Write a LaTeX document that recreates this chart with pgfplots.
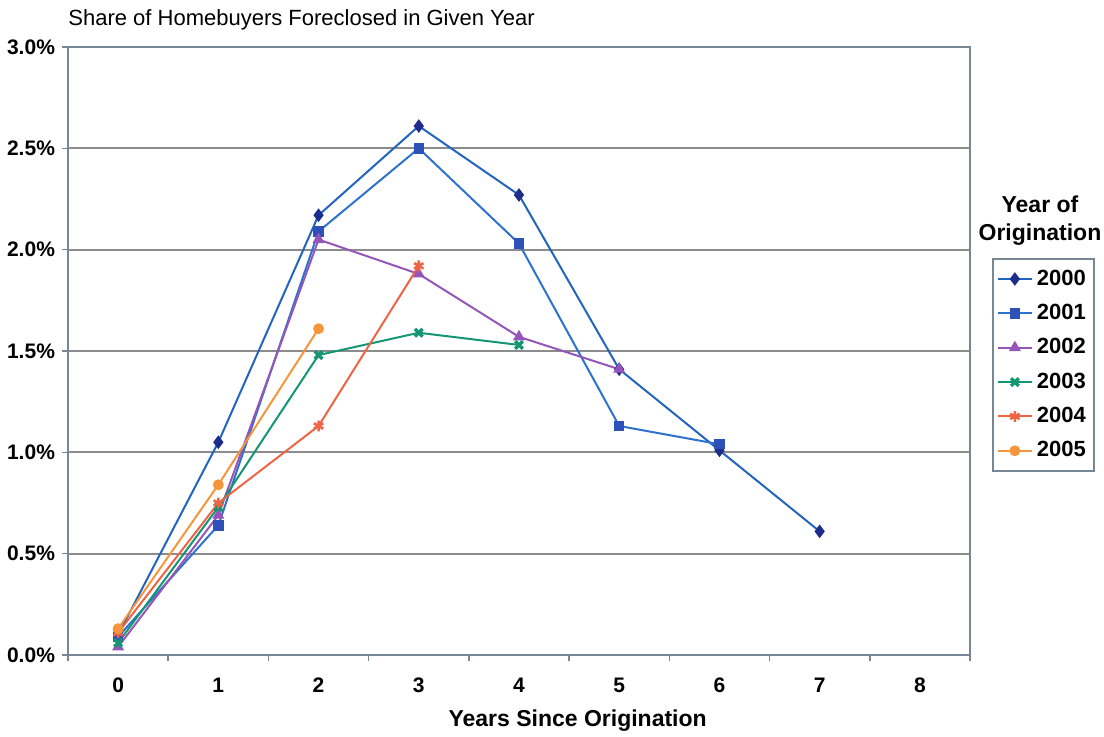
\documentclass[border=0pt]{standalone}
\usepackage{fontspec}
\setmainfont{Liberation Sans}
\usepackage{pgfplots}
\pgfplotsset{compat=1.18}
\definecolor{c2000}{RGB}{35,100,190}
\definecolor{m2000}{RGB}{30,45,140}
\definecolor{c2001}{RGB}{45,115,205}
\definecolor{m2001}{RGB}{45,80,185}
\definecolor{c2002}{RGB}{150,85,185}
\definecolor{c2003}{RGB}{20,150,115}
\definecolor{c2004}{RGB}{240,100,70}
\definecolor{c2005}{RGB}{245,150,60}
\definecolor{axc}{RGB}{120,135,150}
\definecolor{gridc}{RGB}{140,140,140}
\begin{document}
\begin{tikzpicture}
\useasboundingbox (0,0) rectangle (552pt,368pt);
\begin{axis}[
  at={(34pt,40.5pt)}, anchor=south west,
  scale only axis, width=451pt, height=304pt,
  xmin=-0.5, xmax=8.5, ymin=0, ymax=3,
  xtick={0,...,8},
  minor xtick={-0.5,0.5,...,8.5},
  major x tick style={draw=none},
  xtick pos=left, ytick pos=left,
  ytick={0,0.5,...,3},
  tick align=outside,
  major tick length=3pt, minor tick length=3pt,
  tick style={axc, line width=0.8pt},
  axis line style={axc, line width=0.9pt},
  ymajorgrids, grid style={gridc, line width=1pt},
  /pgf/number format/assume math mode=true,
  ticklabel style={font=\fontsize{10.5}{12}\selectfont\bfseries},
  yticklabel={\pgfmathprintnumber[fixed,fixed zerofill,precision=1]{\tick}\%},
  xticklabel style={yshift=-5pt},
  every axis plot/.append style={line width=1pt},
  legend style={at={(rel axis cs:1.0244,0.653)}, anchor=north west,
    draw=axc, line width=0.8pt, font=\fontsize{11}{13}\selectfont\bfseries,
    row sep=4pt, inner xsep=2pt, inner ysep=3.5pt},
  legend cell align=left,
  clip=false,
]
\addplot[c2000, mark=diamond*, mark size=2.6pt, mark options={fill=m2000, draw=m2000}] coordinates {(0,0.10) (1,1.05) (2,2.17) (3,2.61) (4,2.27) (5,1.41) (6,1.01) (7,0.61)};
\addlegendentry{2000}
\addplot[c2001, mark=square*, mark size=2.1pt, mark options={fill=m2001, draw=m2001}] coordinates {(0,0.09) (1,0.64) (2,2.09) (3,2.50) (4,2.03) (5,1.13) (6,1.04)};
\addlegendentry{2001}
\addplot[c2002, mark=triangle*, mark size=2.5pt, mark options={fill=c2002}] coordinates {(0,0.04) (1,0.69) (2,2.05) (3,1.88) (4,1.57) (5,1.41)};
\addlegendentry{2002}
\addplot[c2003, mark=x, mark size=2.7pt, mark options={line width=1.7pt}] coordinates {(0,0.06) (1,0.73) (2,1.48) (3,1.59) (4,1.53)};
\addlegendentry{2003}
\addplot[c2004, mark=asterisk, mark size=2.7pt, mark options={line width=1.3pt}] coordinates {(0,0.11) (1,0.75) (2,1.13) (3,1.92)};
\addlegendentry{2004}
\addplot[c2005, mark=*, mark size=2.2pt, mark options={fill=c2005}] coordinates {(0,0.13) (1,0.84) (2,1.61)};
\addlegendentry{2005}
\node[anchor=base west, font=\fontsize{11}{13}\selectfont, inner sep=0pt] at (rel axis cs:0,1.036) {Share of Homebuyers Foreclosed in Given Year};
\node[anchor=base, font=\fontsize{11.5}{13}\selectfont\bfseries, inner sep=0pt] at (rel axis cs:0.565,-0.118) {Years Since Origination};
\node[align=center, font=\fontsize{11.5}{14}\selectfont\bfseries, inner sep=0pt] at (rel axis cs:1.0776,0.714) {Year of\\Origination};
\end{axis}
\end{tikzpicture}
\end{document}
